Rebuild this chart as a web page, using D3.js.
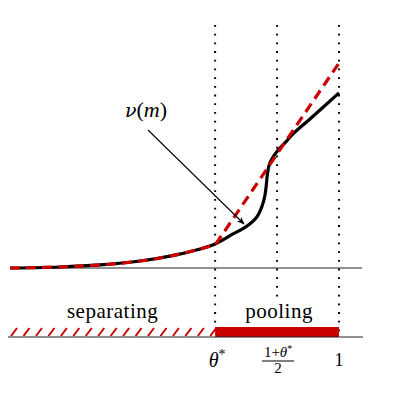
<!DOCTYPE html>
<html>
<head>
<meta charset="utf-8">
<script src="https://cdn.jsdelivr.net/npm/d3@7"></script>
<style>
body{margin:0;background:#fff;}
text{font-family:"Liberation Serif","DejaVu Serif",serif;fill:#000;}
</style>
</head>
<body>
<div id="chart"></div>
<script>
let thetaStar=0.62;
let mid=(1+thetaStar)/2;

// black curve nu(m)
let nuX=[-0.009,0.144,0.267,0.390,0.497,0.574,0.620,0.675,0.718,0.748,0.764,0.773,0.777,0.780,0.785,0.794,0.811,0.834,0.859,0.911,1.0];
let nuY=[0,0.005,0.015,0.034,0.063,0.093,0.117,0.166,0.205,0.249,0.302,0.356,0.405,0.454,0.498,0.532,0.571,0.610,0.654,0.727,0.854];

// red dashed: curved part up to theta*, then straight to 1
let redX=[-0.009,0.144,0.267,0.390,0.497,0.574,0.620];
let redY=[0,0.005,0.015,0.034,0.063,0.093,0.112];
let redEnd=[1.0,1.0];

let guideX=[thetaStar,mid,1];
let tickLabels=["θ*","frac","1"];
let regions=[{label:"separating",from:-0.009,to:thetaStar,kind:"hatch"},
             {label:"pooling",from:thetaStar,to:1,kind:"solid"}];

let width=414,height=394;
const svg=d3.select("#chart").append("svg")
  .attr("width",width).attr("height",height);

const xScale=d3.scaleLinear().domain([0,1]).range([13,339]);
const yScale=d3.scaleLinear().domain([0,1]).range([268,63]);

let red="#cc0000";
let axisY=268, barTop=327, barBottom=337;

// dotted verticals
svg.selectAll(".guide")
   .data(guideX)
   .enter()
   .append("line")
   .attr("class","guide")
   .attr("x1",d=>xScale(d)).attr("x2",d=>xScale(d))
   .attr("y1",25).attr("y2",barBottom)
   .attr("stroke","#000")
   .attr("stroke-width",2)
   .attr("stroke-dasharray","1.8,6.9");

// horizontal axis
svg.append("line")
   .attr("x1",10).attr("x2",362)
   .attr("y1",axisY).attr("y2",axisY)
   .attr("stroke","#222").attr("stroke-width",1.2);

// curves
let line=d3.line().curve(d3.curveCatmullRom.alpha(0.5))
           .x(d=>xScale(d[0])).y(d=>yScale(d[1]));

svg.append("path")
   .datum(d3.zip(nuX,nuY))
   .attr("d",line)
   .attr("fill","none")
   .attr("stroke","#000")
   .attr("stroke-width",3.2);

svg.append("path")
   .attr("d",line(d3.zip(redX,redY)) + "L" + xScale(redEnd[0]) + "," + yScale(redEnd[1]))
   .attr("fill","none")
   .attr("stroke",red)
   .attr("stroke-width",3.2)
   .attr("stroke-dasharray","10,6");

// arrow
svg.append("defs").append("marker")
   .attr("id","arrow")
   .attr("viewBox","0 0 10 10")
   .attr("refX",9).attr("refY",5)
   .attr("markerWidth",8).attr("markerHeight",8)
   .attr("markerUnits","userSpaceOnUse")
   .attr("orient","auto")
   .append("path")
   .attr("d","M0,1 L10,5 L0,9 L3,5 Z")
   .attr("fill","#000");

svg.append("line")
   .attr("x1",148).attr("y1",130)
   .attr("x2",244).attr("y2",224)
   .attr("stroke","#000").attr("stroke-width",1.1)
   .attr("marker-end","url(#arrow)");

svg.append("text")
   .attr("x",146).attr("y",117)
   .attr("text-anchor","middle")
   .attr("font-size",22)
   .html('<tspan font-family="DejaVu Serif" font-style="italic" font-size="19">ν</tspan>(<tspan font-style="italic">m</tspan>)');

// bottom regions
regions.forEach(r=>{
  let x0=xScale(r.from), x1=xScale(r.to);
  if(r.kind==="solid"){
    svg.append("rect")
       .attr("x",x0).attr("y",barTop)
       .attr("width",x1-x0).attr("height",barBottom-barTop)
       .attr("fill",red);
  } else {
    svg.selectAll(".hatch")
       .data(d3.range(x0,x1-4,12.45))
       .enter()
       .append("line")
       .attr("class","hatch")
       .attr("x1",d=>d+1).attr("y1",barBottom-1)
       .attr("x2",d=>d+7).attr("y2",barTop+1)
       .attr("stroke",red).attr("stroke-width",2);
  }
  let t=svg.append("text")
     .attr("x",(x0+x1)/2 + (r.kind==="hatch"?0:2))
     .attr("y",318)
     .attr("text-anchor","middle")
     .attr("font-size",21)
     .attr("letter-spacing",0.5)
     .text(r.label);
  if(r.kind==="solid"){
    let bb=t.node().getBBox();
    svg.insert("rect","text")
       .attr("x",bb.x-2).attr("y",bb.y+2)
       .attr("width",bb.width+4).attr("height",bb.height-2)
       .attr("fill","#fff");
  }
});

svg.append("line")
   .attr("x1",8).attr("x2",363)
   .attr("y1",barBottom).attr("y2",barBottom)
   .attr("stroke","#222").attr("stroke-width",1.2);

// tick labels
guideX.forEach((v,i)=>{
  let x=xScale(v);
  if(tickLabels[i]==="frac"){
    svg.append("text").attr("x",x+1).attr("y",357)
       .attr("text-anchor","middle").attr("font-size",15)
       .html('1+<tspan font-style="italic">θ</tspan><tspan dy="-5" font-size="10">*</tspan>');
    svg.append("line").attr("x1",x-15).attr("x2",x+17)
       .attr("y1",361).attr("y2",361)
       .attr("stroke","#000").attr("stroke-width",1.2);
    svg.append("text").attr("x",x+1).attr("y",373)
       .attr("text-anchor","middle").attr("font-size",15).text("2");
  } else if(tickLabels[i]==="θ*"){
    svg.append("text").attr("x",x+2).attr("y",367)
       .attr("text-anchor","middle").attr("font-size",20)
       .html('<tspan font-style="italic">θ</tspan><tspan dy="-8" font-size="14">*</tspan>');
  } else {
    svg.append("text").attr("x",x).attr("y",366)
       .attr("text-anchor","middle").attr("font-size",18)
       .text(tickLabels[i]);
  }
});
</script>
</body>
</html>
